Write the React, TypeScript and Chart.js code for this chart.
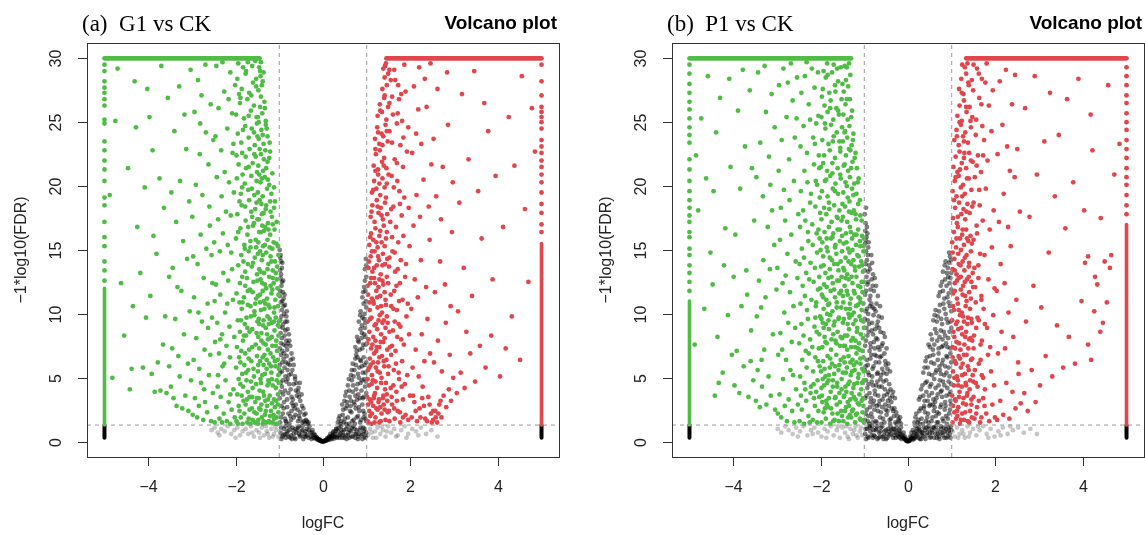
import React, { useEffect, useRef } from "react";
import { Chart, registerables } from "chart.js";

Chart.register(...registerables);

// ---------- shared axis settings ----------
const xTicks = [-4, -2, 0, 2, 4];
const yTicks = [0, 5, 10, 15, 20, 25, 30];
const fcCut = [-1, 1];
const fdrCut = 1.3;
const xRange = [-5.4, 5.4];
const yRange = [-1.2, 31.2];
const xTitle = "logFC";
const yTitle = "\u22121*log10(FDR)";
const mainTitle = "Volcano plot";

// ---------- panel (a) G1 vs CK : flat x,y pairs ----------
const aLabel = "(a)  G1 vs CK";
const aDown = [
  -4.82,5.0, -4.70,29.2, -4.62,12.4, -4.88,19.3, -4.55,8.3, -4.75,25.1,
  -4.42,4.1, -4.38,5.7, -4.31,28.2, -4.25,16.8, -4.46,21.4, -4.12,5.8, -4.05,9.7, -4.18,13.2, -4.28,24.6, -4.08,19.9, -4.35,10.6, -4.02,27.6,
  -3.92,5.3, -3.85,3.9, -3.78,6.2, -3.72,4.0, -3.66,7.6, -3.58,3.8, -3.52,5.9, -3.95,11.4, -3.81,14.7, -3.64,18.3, -3.90,22.8, -3.55,26.9, -3.70,29.4, -3.61,9.8, -3.88,16.1, -3.74,20.6, -3.52,12.9, -3.97,25.4,
  -3.48,4.3, -3.42,3.4, -3.35,2.8, -3.28,5.1, -3.22,2.6, -3.15,3.6, -3.08,2.4, -3.02,4.8, -3.45,7.3, -3.38,9.6, -3.31,6.7, -3.24,11.8, -3.18,8.4, -3.11,14.3, -3.05,10.2, -3.44,13.6, -3.36,17.2, -3.27,20.4, -3.20,15.7, -3.13,22.9, -3.06,18.8, -3.40,24.3, -3.29,27.8, -3.17,25.6, -3.03,29.1, -3.33,12.1, -3.09,6.1, -3.47,19.5,
  -2.98,2.1, -2.93,3.4, -2.88,1.9, -2.84,2.8, -2.79,4.6, -2.74,1.7, -2.70,3.1, -2.65,2.3, -2.61,5.2, -2.56,1.6, -2.52,3.8, -2.96,6.4, -2.90,8.1, -2.83,5.7, -2.77,9.4, -2.71,7.2, -2.64,10.8, -2.58,6.8, -2.53,12.4, -2.95,11.3, -2.87,13.9, -2.80,16.2, -2.73,12.8, -2.67,15.1, -2.60,18.4, -2.55,14.6, -2.99,17.6, -2.91,20.1, -2.82,22.5, -2.76,19.3, -2.68,24.2, -2.62,21.7, -2.57,26.4, -2.94,25.8, -2.86,28.3, -2.78,27.1, -2.69,29.5, -2.51,23.6, -2.63,8.9, -2.85,10.1, -2.72,4.1, -2.59,16.9, -2.97,14.5, -2.54,9.7, -2.81,24.9,
  -2.48,1.5, -2.44,2.7, -2.41,4.3, -2.37,1.8, -2.34,3.5, -2.30,5.9, -2.27,2.2, -2.23,4.8, -2.20,1.6, -2.16,3.1, -2.13,6.6, -2.09,2.5, -2.05,4.1, -2.02,1.9,
  -2.47,7.8, -2.42,9.3, -2.38,6.9, -2.35,11.5, -2.31,8.4, -2.28,13.2, -2.24,10.1, -2.21,7.5, -2.17,12.6, -2.14,9.0, -2.10,14.8, -2.06,11.1, -2.03,8.2,
  -2.49,15.6, -2.45,12.3, -2.40,17.4, -2.36,14.9, -2.32,19.2, -2.29,16.3, -2.25,21.1, -2.22,18.0, -2.18,15.4, -2.15,20.3, -2.11,17.7, -2.07,22.6, -2.04,19.5,
  -2.46,23.9, -2.43,20.7, -2.39,26.1, -2.33,22.8, -2.26,27.4, -2.19,24.5, -2.12,28.9, -2.08,25.7, -2.01,27.9, -2.44,29.4, -2.30,29.7, -2.16,26.8, -2.05,23.3,
  -2.40,5.2, -2.26,6.1, -2.12,3.7, -2.35,8.0, -2.19,10.8, -2.08,13.5, -2.48,11.0,
  -1.98,1.6, -1.91,2.4, -1.84,1.4, -1.77,2.9, -1.70,1.8, -1.63,2.6, -1.56,1.5, -1.52,2.2, -1.88,1.9, -1.66,1.4,
  -1.96,3.7, -1.89,4.5, -1.82,3.2, -1.75,4.8, -1.68,3.5, -1.61,4.2, -1.55,3.1, -1.93,4.9, -1.72,3.9,
  -1.99,5.8, -1.92,6.6, -1.85,5.3, -1.78,6.9, -1.71,5.6, -1.64,6.3, -1.58,5.1, -1.51,6.7, -1.80,6.0,
  -1.97,7.4, -1.90,8.6, -1.83,7.9, -1.76,8.3, -1.69,7.2, -1.62,8.8, -1.54,7.6, -1.87,7.1, -1.73,8.9,
  -1.95,9.5, -1.86,10.4, -1.79,9.2, -1.72,10.7, -1.65,9.8, -1.57,10.2, -1.50,9.4, -1.91,10.9,
  -1.98,11.6, -1.90,12.4, -1.81,11.3, -1.74,12.8, -1.67,11.9, -1.59,12.5, -1.53,11.2, -1.85,12.9,
  -1.94,13.8, -1.87,14.6, -1.78,13.3, -1.70,14.9, -1.63,13.7, -1.56,14.4, -1.51,13.1, -1.82,14.1,
  -1.99,15.9, -1.89,16.7, -1.80,15.4, -1.73,16.2, -1.66,15.7, -1.60,16.9, -1.53,15.2, -1.94,16.4,
  -1.96,17.8, -1.86,18.5, -1.77,17.3, -1.69,18.9, -1.62,17.6, -1.55,18.2, -1.91,18.8, -1.50,17.4,
  -1.97,20.6, -1.88,19.4, -1.79,20.2, -1.71,19.7, -1.64,20.8, -1.57,19.3, -1.52,20.4, -1.84,20.9,
  -1.93,21.7, -1.85,22.6, -1.76,21.4, -1.68,22.9, -1.61,21.8, -1.54,22.3, -1.98,22.4,
  -1.95,24.1, -1.87,23.4, -1.78,24.7, -1.70,23.8, -1.63,24.5, -1.56,23.2, -1.51,24.9,
  -1.99,25.6, -1.90,26.5, -1.81,25.3, -1.73,26.8, -1.65,25.9, -1.58,26.3, -1.52,25.4,
  -1.96,28.4, -1.86,27.6, -1.77,28.8, -1.69,27.3, -1.60,28.1, -1.53,27.8, -1.92,27.2,
  -1.94,29.6, -1.83,29.3, -1.72,29.7, -1.62,29.4, -1.55,29.8,
  -1.48,1.7, -1.43,2.5, -1.38,1.4, -1.33,2.1, -1.28,2.8, -1.24,1.6, -1.19,2.4, -1.15,1.5, -1.10,2.7, -1.06,1.9, -1.02,2.3, -1.41,2.9, -1.30,1.5, -1.13,2.1, -1.04,1.4,
  -1.47,3.4, -1.42,4.6, -1.37,3.9, -1.32,3.2, -1.27,4.4, -1.22,3.6, -1.17,4.9, -1.12,3.3, -1.08,4.2, -1.03,3.7, -1.45,4.0, -1.25,4.8, -1.01,4.6,
  -1.49,5.5, -1.44,6.3, -1.39,5.2, -1.34,6.8, -1.29,5.7, -1.23,6.1, -1.18,5.4, -1.14,6.6, -1.09,5.9, -1.04,6.4, -1.02,5.2, -1.36,6.0, -1.20,6.9,
  -1.46,7.3, -1.41,8.5, -1.36,7.7, -1.31,8.9, -1.26,7.2, -1.21,8.1, -1.16,7.5, -1.11,8.7, -1.07,7.9, -1.02,8.3, -1.48,8.2, -1.28,8.4, -1.05,7.1,
  -1.47,9.6, -1.42,10.3, -1.37,9.1, -1.32,10.8, -1.27,9.8, -1.22,10.5, -1.17,9.3, -1.12,10.1, -1.08,9.7, -1.03,10.6, -1.44,10.9, -1.24,9.2, -1.01,9.4,
  -1.49,11.4, -1.43,12.7, -1.38,11.8, -1.33,12.3, -1.28,11.2, -1.23,12.9, -1.18,11.6, -1.13,12.4, -1.09,11.1, -1.04,12.0, -1.35,11.0, -1.15,12.8,
  -1.46,13.5, -1.40,14.2, -1.35,13.2, -1.30,14.8, -1.25,13.9, -1.20,14.5, -1.15,13.4, -1.10,14.1, -1.05,13.7, -1.02,14.6, -1.44,14.9,
  -1.48,15.6, -1.42,16.4, -1.37,15.3, -1.32,16.8, -1.27,15.8, -1.21,16.2, -1.16,15.1, -1.11,16.6, -1.07,15.5, -1.39,16.9,
  -1.47,17.4, -1.41,18.6, -1.36,17.9, -1.31,18.2, -1.26,17.1, -1.21,18.8, -1.17,17.6, -1.12,18.3, -1.45,18.9,
  -1.49,19.5, -1.43,20.3, -1.38,19.2, -1.33,20.7, -1.28,19.8, -1.23,20.1, -1.18,19.4, -1.46,20.9,
  -1.48,21.6, -1.42,22.5, -1.37,21.2, -1.32,22.8, -1.27,21.9, -1.23,22.2,
  -1.47,23.7, -1.41,24.4, -1.36,23.3, -1.31,24.8, -1.27,23.9,
  -1.49,25.4, -1.44,26.2, -1.39,25.7, -1.34,26.6, -1.31,25.1,
  -1.48,27.5, -1.43,28.6, -1.40,27.9, -1.46,29.3, -1.42,29.7, -1.38,28.2,
];
const aDownDense = [
  -1.03,2.9, -1.07,3.2, -1.12,1.8, -1.17,3.0, -1.21,2.0, -1.26,3.3, -1.31,2.4, -1.35,3.6, -1.40,1.9, -1.46,2.6, -1.51,3.4, -1.57,2.3, -1.62,3.5, -1.68,2.5, -1.74,3.3, -1.80,2.2, -1.86,3.6, -1.93,2.8,
  -1.01,5.7, -1.06,4.8, -1.10,6.3, -1.15,4.4, -1.19,5.9, -1.24,4.6, -1.29,6.4, -1.33,5.3, -1.38,6.6, -1.43,4.9, -1.48,6.0, -1.53,4.5, -1.59,5.7, -1.65,4.7, -1.70,6.5, -1.76,5.4, -1.83,4.3, -1.89,6.2,
  -1.03,9.1, -1.08,7.5, -1.12,9.4, -1.17,8.2, -1.22,9.6, -1.26,8.0, -1.31,7.6, -1.36,9.5, -1.41,7.9, -1.46,9.2, -1.52,8.5, -1.57,9.9, -1.62,7.4, -1.68,8.6, -1.75,9.7, -1.81,8.3, -1.88,9.5,
  -1.02,11.5, -1.06,12.7, -1.11,10.5, -1.16,11.9, -1.20,12.2, -1.25,10.7, -1.30,12.0, -1.34,10.4, -1.39,12.4, -1.44,11.5, -1.50,12.6, -1.55,10.8, -1.61,11.7, -1.66,10.6, -1.72,11.8, -1.78,12.2, -1.84,10.9,
  -1.03,15.3, -1.08,13.2, -1.13,15.6, -1.18,14.1, -1.22,15.2, -1.27,13.5, -1.33,15.4, -1.38,14.6, -1.43,13.3, -1.49,14.7, -1.54,15.8, -1.60,14.0, -1.66,15.2, -1.72,13.9, -1.79,15.1,
  -1.06,17.2, -1.10,18.8, -1.15,17.0, -1.20,18.0, -1.25,16.6, -1.30,18.5, -1.35,16.5, -1.40,17.8, -1.46,16.4, -1.52,18.7, -1.58,17.1, -1.64,18.0, -1.71,16.8, -1.78,18.4,
  -1.12,19.9, -1.16,21.0, -1.21,22.7, -1.26,20.5, -1.30,21.4, -1.35,22.1, -1.40,20.6, -1.45,22.9, -1.51,21.1, -1.57,22.5, -1.63,19.8, -1.70,21.5, -1.77,22.3, -1.85,19.9,
  -1.22,23.4, -1.29,24.5, -1.33,26.1, -1.38,24.0, -1.42,27.0, -1.47,25.0, -1.53,28.4, -1.58,24.2, -1.64,27.1, -1.70,25.5, -1.76,29.0, -1.83,24.4, -1.89,26.9, -1.44,29.0, -1.36,28.9, -1.50,23.9,
  -1.08,1.4, -1.22,1.5, -1.36,1.6, -1.49,1.4, -1.61,1.7, -1.73,1.5, -1.95,1.4, -2.12,1.4, -2.31,1.5,
];
const aDownCap = [-5, 30, -1.45, 30];
const aDownEdge = [-5, 1.3, -5, 12.0];
const aDownEdgeDots = [
  -5,12.6, -5,13.4, -5,14.1, -5,15.3, -5,16.0, -5,17.2, -5,18.5, -5,19.1, -5,20.4, -5,21.3, -5,22.0,
  -5,22.8, -5,23.5, -5,24.9, -5,25.2, -5,26.3, -5,26.8, -5,27.3, -5,27.7, -5,28.2, -5,29.0, -5,29.5,
];
const aUp = [
  1.02,1.6, 1.06,2.4, 1.11,1.4, 1.15,2.8, 1.20,1.9, 1.25,2.5, 1.29,1.5, 1.34,2.2, 1.39,2.9, 1.43,1.7, 1.48,2.3, 1.08,2.0, 1.31,2.7,
  1.01,3.5, 1.05,4.4, 1.10,3.1, 1.14,4.8, 1.19,3.8, 1.24,4.2, 1.28,3.3, 1.33,4.6, 1.38,3.6, 1.42,4.1, 1.47,3.2, 1.16,3.4,
  1.03,5.6, 1.07,6.5, 1.12,5.2, 1.17,6.9, 1.21,5.8, 1.26,6.2, 1.30,5.4, 1.35,6.7, 1.40,5.9, 1.45,6.4, 1.49,5.3, 1.09,6.0,
  1.01,7.7, 1.06,8.6, 1.10,7.3, 1.15,8.2, 1.20,7.9, 1.24,8.8, 1.29,7.4, 1.33,8.4, 1.38,7.8, 1.43,8.9, 1.47,7.2, 1.22,7.1,
  1.02,9.4, 1.07,10.3, 1.11,9.7, 1.16,10.8, 1.21,9.2, 1.25,10.5, 1.30,9.9, 1.35,10.1, 1.39,9.5, 1.44,10.7, 1.48,9.3,
  1.03,11.5, 1.08,12.4, 1.12,11.2, 1.17,12.8, 1.22,11.8, 1.27,12.1, 1.31,11.4, 1.36,12.6, 1.41,11.7, 1.46,12.9,
  1.04,13.6, 1.09,14.5, 1.13,13.3, 1.18,14.9, 1.23,13.8, 1.28,14.2, 1.32,13.1, 1.37,14.7, 1.42,13.9, 1.47,14.3,
  1.06,15.4, 1.10,16.3, 1.15,15.8, 1.20,16.7, 1.25,15.2, 1.29,16.1, 1.34,15.6, 1.39,16.9, 1.44,15.9,
  1.09,17.6, 1.13,18.5, 1.18,17.2, 1.23,18.9, 1.27,17.9, 1.32,18.3, 1.37,17.4, 1.42,18.7, 1.47,17.8,
  1.12,19.5, 1.17,20.4, 1.22,19.8, 1.26,20.9, 1.31,19.3, 1.36,20.6, 1.41,19.9, 1.46,20.2,
  1.16,21.6, 1.21,22.5, 1.26,21.3, 1.30,22.8, 1.35,21.9, 1.40,22.2, 1.45,21.4,
  1.19,23.7, 1.24,24.6, 1.29,23.3, 1.34,24.1, 1.38,23.9, 1.43,24.8, 1.48,23.5,
  1.25,25.5, 1.30,26.4, 1.35,25.8, 1.40,26.9, 1.45,25.2, 1.49,26.2,
  1.36,27.6, 1.41,28.5, 1.46,27.9, 1.38,29.2, 1.44,29.6, 1.49,28.8,
  1.52,1.6, 1.58,2.9, 1.64,1.8, 1.71,2.4, 1.77,1.5, 1.83,3.3, 1.89,2.1, 1.95,1.7,
  1.55,4.2, 1.62,5.6, 1.68,3.9, 1.74,4.9, 1.81,6.3, 1.87,4.5, 1.93,5.2, 1.99,3.6,
  1.53,7.4, 1.60,8.7, 1.66,7.1, 1.73,9.2, 1.79,8.0, 1.85,7.6, 1.91,9.8, 1.97,8.4,
  1.56,10.6, 1.63,11.8, 1.69,10.3, 1.76,12.4, 1.82,11.1, 1.88,12.9, 1.94,10.8,
  1.51,13.7, 1.59,14.9, 1.65,13.3, 1.72,15.6, 1.78,14.2, 1.84,16.1, 1.90,13.9, 1.98,15.3,
  1.54,17.2, 1.61,18.4, 1.67,16.8, 1.75,19.6, 1.80,17.7, 1.86,19.1, 1.96,18.3,
  1.57,20.8, 1.64,22.1, 1.70,20.4, 1.77,23.2, 1.83,21.5, 1.92,22.7,
  1.52,24.3, 1.60,25.6, 1.69,24.9, 1.74,26.8, 1.81,25.1, 1.89,27.4, 1.95,24.6,
  1.55,28.3, 1.63,29.1, 1.72,27.9, 1.86,29.5, 1.58,27.0,
  2.03,1.9, 2.09,3.1, 2.15,1.6, 2.21,2.6, 2.28,4.3, 2.34,1.8, 2.41,3.5, 2.47,2.2,
  2.05,5.8, 2.12,7.2, 2.19,5.1, 2.26,8.4, 2.32,6.3, 2.39,9.6, 2.45,6.9,
  2.02,10.4, 2.10,12.7, 2.17,11.3, 2.24,14.2, 2.36,12.1, 2.44,15.8,
  2.07,16.9, 2.14,19.3, 2.22,17.6, 2.30,20.5, 2.42,18.4,
  2.04,22.6, 2.13,24.1, 2.25,23.3, 2.37,26.2, 2.48,21.7,
  2.08,27.8, 2.20,29.3, 2.33,28.4, 2.46,29.6, 2.18,26.0,
  2.52,1.7, 2.57,2.4, 2.61,1.5, 2.66,2.9, 2.71,1.9, 2.76,3.6, 2.82,2.7, 2.88,4.1, 2.93,3.2, 2.98,5.0,
  2.54,6.2, 2.63,7.9, 2.72,5.5, 2.81,9.3, 2.90,6.8,
  2.56,11.7, 2.68,14.1, 2.79,12.3, 2.95,16.4,
  2.59,19.2, 2.74,21.5, 2.86,24.8, 2.97,20.3,
  2.62,27.6, 2.84,28.9, 2.70,17.4, 2.53,23.7, 2.92,10.6,
  3.06,3.8, 3.15,5.4, 3.24,4.2, 3.37,6.9, 3.48,4.7, 3.59,7.5, 3.72,5.8, 3.85,8.3,
  3.09,10.2, 3.22,13.6, 3.41,11.4, 3.63,15.9, 3.88,12.7,
  3.12,18.7, 3.33,22.1, 3.55,19.6, 3.78,24.3,
  3.18,27.2, 3.46,29.0, 3.69,26.5, 3.95,20.8, 3.28,8.6,
  4.05,5.1, 4.18,7.3, 4.32,9.8, 4.51,6.4, 4.70,12.5,
  4.12,16.8, 4.38,21.6, 4.62,18.2, 4.85,22.7,
  4.25,25.4, 4.55,28.6, 4.78,26.1,
];
const aUpDense = [
  1.03,2.9, 1.07,3.3, 1.12,2.2, 1.17,3.6, 1.22,2.6, 1.27,3.1, 1.32,1.6, 1.37,3.4, 1.41,2.5, 1.46,3.7, 1.51,2.4, 1.57,3.5, 1.63,2.6, 1.69,3.2, 1.76,2.3, 1.83,1.9, 1.04,1.5, 1.18,1.5,
  1.02,4.9, 1.06,5.8, 1.11,4.5, 1.15,6.2, 1.20,4.7, 1.25,5.5, 1.29,6.6, 1.34,5.0, 1.39,6.3, 1.44,4.6, 1.50,5.9, 1.56,6.8, 1.61,4.4, 1.67,6.1, 1.73,5.4, 1.80,4.3,
  1.04,8.0, 1.08,9.6, 1.13,7.6, 1.18,9.1, 1.23,7.4, 1.27,9.5, 1.32,7.8, 1.36,9.3, 1.41,8.1, 1.46,9.8, 1.52,8.6, 1.58,7.5, 1.64,9.4, 1.70,8.2, 1.77,9.0,
  1.02,12.2, 1.06,10.9, 1.10,12.8, 1.15,11.0, 1.19,12.4, 1.24,11.3, 1.29,12.7, 1.33,10.6, 1.38,12.3, 1.43,11.1, 1.49,12.4, 1.55,11.5, 1.61,10.4, 1.68,12.2, 1.74,11.0,
  1.05,14.1, 1.08,16.0, 1.12,14.9, 1.17,13.6, 1.22,15.6, 1.26,14.5, 1.31,16.5, 1.36,13.8, 1.41,15.3, 1.46,16.4, 1.52,14.4, 1.58,16.0, 1.64,14.8, 1.71,13.5,
  1.11,18.0, 1.15,19.7, 1.20,21.2, 1.25,18.4, 1.29,20.2, 1.34,17.7, 1.39,21.6, 1.44,19.1, 1.50,20.9, 1.56,18.2, 1.62,19.9, 1.69,21.8, 1.76,18.6,
  1.20,22.9, 1.26,24.2, 1.31,25.9, 1.36,23.2, 1.41,27.1, 1.46,24.3, 1.52,26.5, 1.58,23.4, 1.65,28.3, 1.71,25.7, 1.79,27.2, 1.42,29.4, 1.52,29.1, 1.84,23.8,
  2.23,1.9, 2.31,2.8, 2.38,1.6, 2.44,2.9, 2.52,2.4, 2.58,1.9, 2.64,2.2, 2.69,3.2, 2.27,3.4, 2.49,1.5, 2.12,2.4, 2.06,3.6,
];
const aUpCap = [1.45, 30, 5, 30];
const aUpEdge = [5, 1.3, 5, 15.5];
const aUpEdgeDots = [
  5,16.4, 5,17.0, 5,17.9, 5,18.6, 5,19.5, 5,20.3, 5,20.9, 5,21.5, 5,22.0, 5,22.6,
  5,23.1, 5,23.6, 5,24.5, 5,25.0, 5,25.4, 5,25.8, 5,26.2, 5,27.1, 5,28.2, 5,29.5,
];
const aNs = [
  -2.55,0.9, -2.48,1.1, -2.41,0.7, -2.33,1.0, -2.25,0.8, -2.18,1.2, -2.10,0.6, -2.03,0.9, -1.96,1.1, -1.90,0.5, -1.84,0.8, -1.77,1.0, -1.71,0.6, -1.65,1.2, -1.58,0.4, -1.52,0.9, -1.46,0.7, -1.40,1.1, -1.35,0.5, -1.29,0.8, -1.23,0.3, -1.18,1.0, -1.12,0.6, -1.07,0.9, -1.02,0.4, -2.37,0.5, -2.00,0.3, -1.62,0.7, -1.44,0.3, -1.31,1.2, -1.15,0.4, -1.09,1.2, -1.26,0.6,
  -0.97,0.7, -0.93,0.4, -0.89,1.0, -0.85,0.3, -0.81,0.8, -0.77,1.2, -0.73,0.5, -0.69,0.9, -0.65,0.3, -0.61,0.7, -0.57,1.1, -0.53,0.4, -0.49,0.8, -0.45,0.2, -0.41,0.6, -0.37,1.0, -0.33,0.3, -0.29,0.7, -0.26,0.2, -0.23,0.5, -0.19,0.3, -0.16,0.2, -0.12,0.15, -0.08,0.1, -0.04,0.05, 0.00,0.04, 0.04,0.06, 0.08,0.1, 0.12,0.2, 0.15,0.15, 0.19,0.35, 0.22,0.5, 0.26,0.25, 0.29,0.8, 0.33,0.4, 0.36,1.1, 0.40,0.6, 0.44,0.3, 0.48,0.9, 0.52,0.5, 0.56,1.2, 0.60,0.3, 0.64,0.8, 0.68,0.4, 0.72,1.0, 0.76,0.6, 0.80,0.2, 0.84,0.9, 0.88,0.5, 0.92,1.1, 0.96,0.3, 0.99,0.7,
  -0.95,0.2, -0.87,0.6, -0.79,0.4, -0.71,0.2, -0.63,1.0, -0.55,0.6, -0.47,1.2, -0.39,0.4, -0.31,1.2, -0.24,0.9, -0.20,0.6, -0.14,0.3, -0.10,0.2, -0.06,0.08, -0.02,0.02, 0.02,0.03, 0.06,0.12, 0.10,0.3, 0.14,0.4, 0.17,0.6, 0.21,0.2, 0.24,0.8, 0.28,0.4, 0.31,1.0, 0.38,0.3, 0.42,0.9, 0.46,0.5, 0.54,0.2, 0.58,0.7, 0.66,1.1, 0.74,0.3, 0.82,0.6, 0.90,0.2, 0.94,0.8,
  1.03,0.5, 1.08,1.0, 1.14,0.3, 1.19,0.8, 1.25,1.1, 1.31,0.6, 1.37,0.9, 1.43,0.4, 1.49,1.2, 1.56,0.7, 1.63,1.0, 1.71,0.5, 1.79,0.9, 1.87,1.2, 1.95,0.6, 2.04,1.0, 2.13,0.8, 2.24,1.1, 2.36,0.6, 2.48,0.9, 2.62,0.4, 1.11,0.7, 1.22,0.3, 1.34,1.2, 1.46,0.8, 1.67,0.4, 1.91,0.3, 2.18,0.5,
  -0.98,1.5, -0.92,2.2, -0.87,1.8, -0.82,2.7, -0.77,1.4, -0.72,2.4, -0.67,1.9, -0.62,2.9, -0.57,1.6, -0.52,2.3, -0.47,1.5, -0.43,2.1, -0.39,1.7, -0.35,1.4, -0.95,2.8, -0.85,1.6, -0.75,2.0, -0.65,2.6, -0.55,2.0, -0.45,2.6, -0.41,1.4, -0.33,1.5,
  -0.99,3.4, -0.94,4.3, -0.89,3.1, -0.84,4.7, -0.79,3.8, -0.74,4.1, -0.69,3.3, -0.64,4.9, -0.60,3.6, -0.56,4.2, -0.52,3.2, -0.49,3.7, -0.91,3.7, -0.81,4.9, -0.71,3.0, -0.62,4.0, -0.55,3.5, -0.97,4.6,
  -0.98,5.4, -0.93,6.2, -0.88,5.8, -0.83,6.7, -0.78,5.2, -0.74,6.4, -0.70,5.6, -0.67,6.0, -0.64,5.1, -0.96,6.8, -0.86,5.1, -0.80,6.1, -0.72,6.9, -0.90,6.5,
  -0.99,7.3, -0.94,8.1, -0.90,7.6, -0.86,8.7, -0.82,7.2, -0.78,8.4, -0.75,7.5, -0.92,8.9, -0.84,7.9, -0.97,8.5, -0.80,7.7,
  -0.98,9.5, -0.94,10.3, -0.91,9.2, -0.87,10.7, -0.84,9.8, -0.96,10.9, -0.89,10.0, -0.82,9.4,
  -0.99,11.4, -0.95,12.2, -0.92,11.7, -0.97,12.8, -0.90,11.2, -0.94,12.5, -0.88,11.5,
  -0.98,13.4, -0.96,14.1, -0.99,15.0, -0.94,13.6, -0.97,14.6,
  0.34,1.5, 0.38,2.0, 0.42,1.6, 0.46,2.5, 0.50,1.8, 0.55,2.8, 0.60,1.4, 0.65,2.3, 0.70,1.7, 0.75,2.6, 0.80,2.0, 0.85,1.5, 0.90,2.9, 0.95,2.2, 0.99,1.6, 0.44,2.9, 0.53,1.4, 0.63,2.8, 0.73,1.4, 0.83,2.4, 0.93,1.9,
  0.49,3.2, 0.53,3.9, 0.57,4.4, 0.61,3.5, 0.66,4.8, 0.71,3.1, 0.76,4.1, 0.81,3.7, 0.86,4.6, 0.91,3.4, 0.96,4.3, 0.99,3.8, 0.59,4.9, 0.68,3.9, 0.78,3.3, 0.88,4.0, 0.94,4.9,
  0.64,5.2, 0.68,6.1, 0.72,5.6, 0.76,6.8, 0.80,5.3, 0.85,6.4, 0.89,5.9, 0.93,6.6, 0.97,5.4, 0.99,6.2, 0.74,6.5, 0.83,5.8,
  0.74,7.4, 0.78,8.2, 0.82,7.8, 0.86,8.8, 0.90,7.3, 0.94,8.4, 0.98,7.6, 0.88,8.1, 0.96,8.9,
  0.82,9.4, 0.86,10.2, 0.90,9.7, 0.93,10.8, 0.97,9.3, 0.99,10.5, 0.95,10.0,
  0.90,11.3, 0.94,12.1, 0.97,11.8, 0.99,12.9, 0.96,13.5, 0.98,14.3,
];
const aNsDense = [
  -0.96,1.1, -0.91,0.5, -0.86,1.2, -0.83,0.6, -0.78,0.9, -0.75,0.3, -0.70,1.1, -0.67,0.6, -0.63,0.2, -0.59,0.9, -0.55,1.2, -0.51,0.5, -0.47,0.9, -0.43,0.4, -0.40,0.8, -0.36,0.5, -0.32,0.9, -0.28,0.4, -0.25,0.7, -0.22,0.3, -0.18,0.5, -0.15,0.35, -0.13,0.25, -0.11,0.2, -0.09,0.12, -0.07,0.15, -0.05,0.07, -0.03,0.04, -0.01,0.03, 0.01,0.02, 0.03,0.05, 0.05,0.08, 0.07,0.1, 0.09,0.18, 0.11,0.15, 0.13,0.3, 0.16,0.4, 0.18,0.25, 0.20,0.45, 0.23,0.7, 0.25,0.4, 0.27,0.6, 0.30,1.0, 0.32,0.3, 0.35,0.8, 0.37,0.5, 0.41,1.2, 0.45,0.7, 0.49,0.3, 0.53,1.0, 0.57,0.5, 0.61,0.9, 0.65,0.4, 0.69,1.2, 0.73,0.6, 0.77,0.9, 0.81,0.4, 0.86,1.1, 0.91,0.6, 0.95,1.0, 0.98,0.4,
  -0.96,1.9, -0.90,2.6, -0.84,1.5, -0.79,2.2, -0.73,1.7, -0.68,2.8, -0.63,2.1, -0.58,2.5, -0.53,1.8, -0.48,2.8, -0.44,1.6, -0.40,2.2, -0.37,1.6, -0.97,3.9, -0.92,4.8, -0.87,4.0, -0.82,3.3, -0.77,4.5, -0.72,3.5, -0.67,4.5, -0.61,4.6, -0.57,3.9, -0.53,4.6, -0.99,6.0, -0.94,5.5, -0.89,6.9, -0.85,6.2, -0.81,5.6, -0.76,6.0, -0.73,5.3, -0.69,6.5, -0.96,7.7, -0.93,7.1, -0.88,8.3, -0.85,7.5, -0.81,8.8, -0.77,7.9, -0.99,9.0, -0.95,9.8, -0.90,10.6, -0.86,9.4, -0.83,10.2, -0.98,11.8, -0.93,11.0, -0.91,12.6, -0.96,13.1, -0.93,14.0, -0.98,14.4,
  0.36,1.8, 0.40,1.4, 0.45,2.1, 0.48,1.5, 0.52,2.6, 0.57,1.9, 0.62,2.4, 0.67,1.6, 0.72,2.9, 0.77,1.9, 0.82,2.7, 0.87,1.7, 0.92,2.4, 0.97,1.8, 0.51,3.6, 0.55,3.1, 0.60,4.0, 0.64,3.2, 0.69,4.4, 0.74,3.6, 0.79,4.5, 0.84,3.4, 0.89,4.8, 0.93,3.5, 0.98,4.7, 0.66,5.6, 0.70,5.1, 0.75,6.0, 0.79,6.6, 0.82,5.0, 0.87,6.3, 0.91,5.4, 0.95,6.0, 0.77,7.1, 0.80,7.9, 0.84,7.2, 0.89,8.5, 0.92,7.6, 0.97,8.2, 0.85,9.9, 0.89,9.1, 0.94,9.6, 0.98,11.0, 0.92,11.7, 0.96,12.6, 0.99,13.8,
];
const aNsEdgeLeft = [-5, 0.3, -5, 1.3];
const aNsEdgeRight = [5, 0.3, 5, 1.3];

// ---------- panel (b) P1 vs CK : flat x,y pairs ----------
const bLabel = "(b)  P1 vs CK";
const bDown = [
  -4.88,7.6, -4.80,18.1, -4.73,25.3, -4.66,10.4, -4.58,28.6, -4.52,14.8, -4.85,22.4, -4.62,20.6,
  -4.47,12.3, -4.42,3.6, -4.36,8.2, -4.30,26.9, -4.24,5.4, -4.18,16.7, -4.12,9.9, -4.06,21.5, -4.45,19.6, -4.33,4.6, -4.21,13.8, -4.09,28.4, -4.39,24.2, -4.03,6.8,
  -3.97,4.4, -3.92,7.1, -3.86,3.8, -3.81,10.6, -3.76,5.9, -3.70,13.4, -3.65,3.5, -3.59,8.7, -3.54,4.8, -3.95,16.2, -3.84,19.8, -3.73,23.1, -3.62,27.5, -3.52,17.3, -3.89,25.9, -3.78,29.1, -3.68,11.5, -3.57,21.4, -3.99,12.9, -3.60,6.3,
  -3.48,3.2, -3.44,5.6, -3.39,2.7, -3.34,4.3, -3.29,7.2, -3.24,2.9, -3.19,5.1, -3.14,3.6, -3.09,8.4, -3.04,2.5,
  -3.46,9.8, -3.41,12.6, -3.36,10.5, -3.31,14.2, -3.26,11.3, -3.21,16.8, -3.16,13.5, -3.11,18.1, -3.06,15.4,
  -3.47,20.7, -3.38,23.4, -3.32,19.2, -3.25,25.8, -3.18,22.3, -3.12,27.2, -3.05,24.6, -3.43,28.9, -3.28,29.4, -3.15,20.1, -3.01,11.9, -3.35,6.4,
  -2.98,2.2, -2.94,3.7, -2.90,1.9, -2.86,4.9, -2.82,2.8, -2.77,1.6, -2.73,3.3, -2.69,5.6, -2.65,2.4, -2.60,1.5, -2.56,4.1, -2.52,2.9,
  -2.97,6.8, -2.92,8.5, -2.88,7.2, -2.83,10.1, -2.79,6.4, -2.74,9.3, -2.70,11.7, -2.66,7.8, -2.62,10.6, -2.58,8.9, -2.53,12.8,
  -2.99,13.6, -2.93,15.8, -2.87,12.4, -2.81,17.3, -2.76,14.7, -2.71,18.9, -2.67,16.2, -2.61,20.4, -2.57,14.1, -2.51,17.8,
  -2.96,21.2, -2.89,23.6, -2.84,19.7, -2.78,25.4, -2.72,22.1, -2.64,26.7, -2.59,23.8, -2.54,28.5,
  -2.95,27.9, -2.85,29.2, -2.75,28.1, -2.68,29.6, -2.55,25.3, -2.91,18.3, -2.63,5.2, -2.80,13.0,
  -2.48,1.6, -2.43,2.5, -2.38,1.4, -2.33,3.2, -2.28,2.0, -2.23,3.8, -2.18,1.7, -2.13,2.8, -2.08,1.5, -2.03,3.5, -2.45,3.6, -2.25,1.5, -2.10,3.9,
  -2.47,5.1, -2.42,6.4, -2.37,4.6, -2.32,5.8, -2.27,6.9, -2.22,4.3, -2.17,5.5, -2.12,6.6, -2.07,4.8, -2.02,5.9, -2.35,4.1,
  -2.49,7.7, -2.44,9.2, -2.39,8.3, -2.34,7.1, -2.29,9.6, -2.24,8.0, -2.19,7.4, -2.14,9.0, -2.09,8.6, -2.04,7.3, -2.01,9.8,
  -2.46,10.8, -2.41,12.2, -2.36,11.4, -2.31,10.3, -2.26,12.7, -2.21,11.1, -2.16,12.5, -2.11,10.6, -2.06,11.9, -2.03,12.9,
  -2.48,13.9, -2.43,15.1, -2.38,14.4, -2.33,13.2, -2.28,15.7, -2.23,14.0, -2.18,15.4, -2.13,13.6, -2.08,14.8, -2.02,15.9,
  -2.47,16.8, -2.40,18.1, -2.35,17.3, -2.29,16.4, -2.24,18.7, -2.19,17.0, -2.12,18.4, -2.05,16.6, -2.01,17.9,
  -2.45,19.6, -2.37,21.2, -2.30,20.3, -2.22,19.4, -2.15,21.7, -2.08,20.1, -2.03,21.4,
  -2.46,23.1, -2.39,24.7, -2.31,22.6, -2.24,25.2, -2.17,23.8, -2.10,24.9, -2.04,22.4,
  -2.44,27.3, -2.36,28.6, -2.27,26.4, -2.20,29.2, -2.14,27.7, -2.06,28.9, -2.32,29.7,
  -1.98,1.5, -1.93,2.3, -1.88,1.8, -1.83,2.7, -1.78,1.4, -1.73,2.2, -1.68,1.7, -1.63,2.9, -1.58,1.6, -1.53,2.4, -1.86,2.9,
  -1.97,3.6, -1.92,4.4, -1.87,3.2, -1.82,4.8, -1.77,3.9, -1.72,4.3, -1.67,3.4, -1.62,4.6, -1.57,3.8, -1.52,4.1, -1.95,4.9,
  -1.99,5.5, -1.94,6.3, -1.89,5.1, -1.84,6.7, -1.79,5.8, -1.74,6.1, -1.69,5.3, -1.64,6.8, -1.59,5.6, -1.54,6.4, -1.81,5.2,
  -1.96,7.4, -1.91,8.2, -1.86,7.7, -1.81,8.8, -1.76,7.2, -1.71,8.4, -1.66,7.9, -1.61,8.6, -1.56,7.5, -1.51,8.1, -1.93,8.9,
  -1.98,9.6, -1.93,10.4, -1.88,9.2, -1.83,10.7, -1.78,9.9, -1.73,10.2, -1.68,9.4, -1.63,10.9, -1.58,9.7, -1.53,10.5, -1.85,10.0,
  -1.97,11.5, -1.92,12.3, -1.87,11.1, -1.82,12.8, -1.77,11.8, -1.72,12.4, -1.67,11.3, -1.62,12.6, -1.57,11.6, -1.52,12.9,
  -1.99,13.7, -1.94,14.5, -1.89,13.2, -1.84,14.9, -1.79,13.5, -1.74,14.2, -1.69,13.9, -1.64,14.7, -1.59,13.4, -1.54,14.1,
  -1.96,15.6, -1.91,16.4, -1.86,15.2, -1.81,16.8, -1.76,15.9, -1.71,16.3, -1.66,15.4, -1.61,16.6, -1.56,15.7, -1.51,16.1,
  -1.98,17.4, -1.92,18.3, -1.87,17.8, -1.81,18.7, -1.75,17.2, -1.69,18.5, -1.63,17.6, -1.57,18.1, -1.52,17.3,
  -1.97,19.6, -1.90,20.4, -1.84,19.2, -1.78,20.8, -1.72,19.8, -1.66,20.2, -1.60,19.4, -1.54,20.6,
  -1.99,21.5, -1.92,22.4, -1.85,21.2, -1.79,22.8, -1.73,21.8, -1.67,22.2, -1.61,21.4, -1.55,22.7,
  -1.96,23.6, -1.89,24.5, -1.82,23.3, -1.76,24.8, -1.70,23.9, -1.63,24.2, -1.57,23.5, -1.51,24.6,
  -1.98,25.4, -1.91,26.3, -1.84,25.8, -1.77,26.7, -1.71,25.2, -1.64,26.1, -1.58,25.6, -1.52,26.8,
  -1.95,27.6, -1.88,28.5, -1.80,27.3, -1.74,28.9, -1.67,27.9, -1.60,28.2, -1.54,29.3, -1.85,29.6, -1.70,29.5,
  -1.48,1.6, -1.44,2.4, -1.39,1.4, -1.35,2.8, -1.30,1.9, -1.26,2.5, -1.21,1.5, -1.17,2.2, -1.12,2.9, -1.08,1.7, -1.04,2.3, -1.01,1.5, -1.33,2.1,
  -1.47,3.5, -1.43,4.3, -1.38,3.1, -1.34,4.7, -1.29,3.8, -1.25,4.2, -1.20,3.3, -1.16,4.6, -1.11,3.7, -1.07,4.1, -1.03,3.4, -1.01,4.8, -1.41,3.9,
  -1.49,5.4, -1.45,6.2, -1.40,5.8, -1.36,6.7, -1.31,5.2, -1.27,6.4, -1.22,5.6, -1.18,6.9, -1.13,5.3, -1.09,6.1, -1.05,5.7, -1.02,6.6, -1.24,6.0,
  -1.48,7.5, -1.44,8.3, -1.39,7.2, -1.35,8.8, -1.30,7.9, -1.26,8.1, -1.21,7.4, -1.17,8.6, -1.12,7.7, -1.08,8.4, -1.04,7.1, -1.01,8.9, -1.15,7.3,
  -1.47,9.6, -1.42,10.4, -1.38,9.2, -1.33,10.8, -1.29,9.9, -1.24,10.1, -1.20,9.5, -1.15,10.7, -1.11,9.8, -1.06,10.3, -1.02,9.4, -1.36,10.0, -1.09,10.9,
  -1.49,11.4, -1.45,12.2, -1.40,11.8, -1.36,12.7, -1.31,11.2, -1.27,12.4, -1.22,11.6, -1.18,12.9, -1.13,11.3, -1.09,12.1, -1.04,11.7, -1.01,12.5,
  -1.48,13.6, -1.43,14.4, -1.39,13.1, -1.34,14.8, -1.30,13.9, -1.25,14.2, -1.21,13.4, -1.16,14.6, -1.12,13.7, -1.07,14.1, -1.03,13.3, -1.02,14.9,
  -1.47,15.5, -1.42,16.3, -1.37,15.1, -1.33,16.8, -1.28,15.9, -1.23,16.2, -1.19,15.4, -1.14,16.6, -1.10,15.7, -1.05,16.1, -1.02,15.3,
  -1.49,17.6, -1.44,18.4, -1.39,17.2, -1.34,18.8, -1.29,17.9, -1.24,18.1, -1.19,17.4, -1.14,18.6, -1.09,17.7,
  -1.48,19.5, -1.43,20.3, -1.38,19.1, -1.33,20.7, -1.28,19.8, -1.23,20.2, -1.18,19.4, -1.13,20.6,
  -1.47,21.6, -1.42,22.4, -1.37,21.2, -1.32,22.8, -1.27,21.9, -1.22,22.2, -1.17,21.4,
  -1.49,23.5, -1.44,24.3, -1.39,23.8, -1.34,24.7, -1.29,23.2, -1.25,24.1,
  -1.48,25.6, -1.43,26.4, -1.38,25.2, -1.33,26.8, -1.28,25.9,
  -1.47,27.4, -1.42,28.3, -1.37,27.8, -1.32,28.7, -1.45,29.4, -1.35,29.6,
];
const bDownDense = [
  -1.02,2.8, -1.06,3.2, -1.10,1.8, -1.15,3.0, -1.19,2.1, -1.24,3.5, -1.28,2.4, -1.32,3.3, -1.37,1.9, -1.42,2.7, -1.46,3.6, -1.51,2.0, -1.56,3.1, -1.61,2.2, -1.66,3.5, -1.71,1.6, -1.76,2.6, -1.81,3.4, -1.90,2.6, -1.96,3.1, -2.05,2.4, -2.15,3.4,
  -1.01,5.5, -1.05,4.6, -1.09,6.5, -1.14,5.0, -1.18,6.2, -1.23,4.5, -1.28,5.5, -1.32,6.2, -1.37,4.5, -1.42,5.4, -1.47,6.6, -1.52,4.9, -1.57,6.0, -1.62,4.3, -1.67,5.9, -1.72,4.8, -1.78,6.5, -1.85,4.6, -1.91,5.7, -1.98,4.2, -2.06,6.3, -2.16,4.5,
  -1.03,8.1, -1.07,9.5, -1.11,7.2, -1.16,8.9, -1.20,7.9, -1.25,9.2, -1.30,7.4, -1.34,9.7, -1.39,8.3, -1.44,7.5, -1.49,9.3, -1.54,8.2, -1.59,9.6, -1.64,7.7, -1.70,9.1, -1.75,8.0, -1.82,9.5, -1.89,7.8, -1.95,9.3, -2.03,8.4, -2.12,9.7,
  -1.02,10.8, -1.06,12.5, -1.10,11.2, -1.14,12.2, -1.19,10.6, -1.24,11.8, -1.29,12.9, -1.33,10.4, -1.38,11.5, -1.43,12.8, -1.48,10.9, -1.53,11.8, -1.58,12.6, -1.63,10.5, -1.69,11.9, -1.75,12.9, -1.80,10.8, -1.86,12.1, -1.94,11.3, -2.01,12.0, -2.10,10.9,
  -1.01,15.9, -1.05,13.8, -1.09,15.3, -1.13,14.5, -1.18,16.2, -1.22,13.7, -1.27,15.0, -1.31,16.4, -1.36,14.1, -1.41,15.6, -1.46,13.4, -1.51,14.9, -1.56,16.6, -1.61,13.9, -1.67,15.2, -1.73,16.0, -1.79,14.4, -1.86,15.9, -1.93,13.8, -2.00,15.0, -2.09,16.3,
  -1.06,17.3, -1.10,18.9, -1.15,20.3, -1.20,17.8, -1.25,19.3, -1.30,21.4, -1.35,18.0, -1.40,20.0, -1.45,21.7, -1.50,18.6, -1.55,20.9, -1.61,17.5, -1.67,19.6, -1.73,21.0, -1.80,18.2, -1.87,20.5, -1.94,21.8, -2.02,19.1, -2.11,20.4,
  -1.20,22.6, -1.26,23.6, -1.30,25.4, -1.35,22.9, -1.40,26.8, -1.45,24.2, -1.50,28.0, -1.55,23.0, -1.60,25.9, -1.66,27.4, -1.72,23.5, -1.78,26.1, -1.84,28.7, -1.90,24.9, -1.97,27.0, -2.05,25.5, -2.13,23.3, -1.40,29.3, -1.62,29.2, -1.93,29.0,
];
const bDownCap = [-5, 30, -1.3, 30];
const bDownEdge = [-5, 1.3, -5, 11.0];
const bDownEdgeDots = [
  -5,11.8, -5,12.5, -5,13.2, -5,13.8, -5,14.6, -5,15.1, -5,16.0, -5,16.4, -5,17.2, -5,17.7, -5,18.3, -5,18.9, -5,19.6,
  -5,20.4, -5,21.3, -5,22.1, -5,23.4, -5,24.0, -5,24.6, -5,25.3, -5,26.0, -5,26.6, -5,27.3, -5,28.0, -5,28.8, -5,29.5,
];
const bUp = [
  1.02,1.5, 1.06,2.3, 1.10,1.8, 1.15,2.7, 1.19,1.4, 1.24,2.2, 1.28,1.7, 1.33,2.9, 1.37,1.6, 1.42,2.4, 1.46,1.9, 1.13,2.0,
  1.01,3.6, 1.05,4.4, 1.09,3.2, 1.14,4.8, 1.18,3.9, 1.23,4.3, 1.27,3.4, 1.32,4.6, 1.36,3.8, 1.41,4.1, 1.45,3.3, 1.49,4.7,
  1.03,5.5, 1.07,6.3, 1.12,5.1, 1.16,6.7, 1.21,5.8, 1.25,6.1, 1.30,5.3, 1.34,6.8, 1.39,5.6, 1.44,6.4, 1.48,5.2,
  1.02,7.4, 1.06,8.2, 1.11,7.8, 1.15,8.8, 1.20,7.2, 1.24,8.4, 1.29,7.6, 1.33,8.6, 1.38,7.3, 1.43,8.1, 1.47,7.9,
  1.01,9.5, 1.05,10.3, 1.10,9.2, 1.14,10.8, 1.19,9.9, 1.23,10.1, 1.28,9.4, 1.32,10.6, 1.37,9.7, 1.42,10.4, 1.46,9.3,
  1.03,11.6, 1.07,12.4, 1.12,11.2, 1.16,12.8, 1.21,11.9, 1.26,12.2, 1.31,11.4, 1.35,12.7, 1.40,11.7, 1.45,12.5,
  1.02,13.5, 1.06,14.3, 1.11,13.1, 1.15,14.7, 1.20,13.8, 1.25,14.1, 1.29,13.4, 1.34,14.6, 1.39,13.7, 1.44,14.9, 1.48,13.2,
  1.01,15.6, 1.05,16.4, 1.10,15.2, 1.14,16.8, 1.19,15.9, 1.24,16.2, 1.28,15.4, 1.33,16.6, 1.38,15.7, 1.43,16.1,
  1.03,17.5, 1.08,18.3, 1.12,17.1, 1.17,18.7, 1.22,17.8, 1.27,18.2, 1.31,17.4, 1.36,18.6, 1.41,17.9, 1.47,18.4,
  1.02,19.6, 1.07,20.4, 1.11,19.2, 1.16,20.8, 1.21,19.9, 1.26,20.1, 1.30,19.4, 1.35,20.6, 1.45,19.7,
  1.04,21.5, 1.09,22.3, 1.13,21.1, 1.18,22.7, 1.23,21.8, 1.28,22.2, 1.33,21.4, 1.40,22.6, 1.48,21.9,
  1.06,23.6, 1.11,24.4, 1.16,23.2, 1.21,24.8, 1.26,23.9, 1.31,24.2, 1.37,23.4, 1.44,24.6,
  1.13,25.5, 1.18,26.3, 1.23,25.1, 1.28,26.7, 1.34,25.8, 1.41,26.2, 1.47,25.4,
  1.17,27.6, 1.22,28.4, 1.27,27.2, 1.33,28.8, 1.39,27.9, 1.46,28.3, 1.24,29.5, 1.36,29.6,
  1.52,1.8, 1.58,2.7, 1.65,1.5, 1.72,3.4, 1.79,2.2, 1.86,1.6, 1.93,2.9, 1.99,1.9,
  1.55,4.6, 1.62,6.1, 1.69,5.2, 1.76,4.1, 1.83,6.8, 1.90,5.5, 1.97,4.4,
  1.51,8.3, 1.59,9.7, 1.66,7.6, 1.73,10.4, 1.81,8.9, 1.88,7.4, 1.95,9.9,
  1.54,12.1, 1.61,13.8, 1.68,11.4, 1.75,14.6, 1.84,12.7, 1.92,15.2,
  1.57,16.9, 1.64,18.5, 1.71,17.3, 1.78,19.8, 1.87,16.6, 1.96,18.1,
  1.53,20.7, 1.60,22.4, 1.67,21.1, 1.74,23.6, 1.82,22.0, 1.91,24.3,
  1.56,25.2, 1.63,26.9, 1.70,24.7, 1.77,28.1, 1.85,26.3, 1.94,27.5,
  1.58,29.2, 1.69,28.4, 1.80,29.6, 1.98,12.0, 1.50,15.8,
  2.04,1.7, 2.11,3.2, 2.18,2.1, 2.25,4.6, 2.32,1.8, 2.39,3.9, 2.46,2.6, 2.53,5.3, 2.58,3.0,
  2.06,6.9, 2.14,8.6, 2.22,7.3, 2.30,10.1, 2.41,8.2, 2.52,6.2,
  2.03,11.8, 2.12,13.9, 2.21,12.4, 2.35,15.3, 2.48,11.1,
  2.08,17.2, 2.19,19.4, 2.29,16.8, 2.44,20.7, 2.56,18.0,
  2.05,22.5, 2.16,24.8, 2.27,23.1, 2.38,26.4, 2.50,22.9,
  2.10,28.2, 2.24,29.1, 2.45,28.7, 2.33,21.2,
  2.66,3.8, 2.74,2.4, 2.83,5.6, 2.92,3.1, 3.02,4.4, 3.15,6.7, 3.30,5.1,
  2.70,9.4, 2.87,12.2, 3.05,10.5, 3.22,14.8, 3.41,9.1,
  2.78,17.6, 2.95,20.9, 3.12,23.5, 3.36,19.2,
  2.68,26.1, 2.90,28.6, 3.25,27.3, 3.45,24.0,
  3.55,5.8, 3.68,8.2, 3.82,6.1, 3.97,11.0, 4.12,7.6, 4.28,12.9, 4.46,9.3, 4.65,14.6,
  3.60,16.7, 3.78,20.3, 4.03,18.1, 4.22,22.8, 4.41,17.5, 4.72,20.9,
  3.64,26.8, 3.90,28.4, 4.18,25.6, 4.58,27.9, 4.84,23.3,
  4.05,14.0, 4.12,14.5, 4.50,14.1, 4.62,13.6, 4.33,12.3, 4.26,10.2, 4.40,8.6, 4.19,6.4, 4.55,10.9,
];
const bUpDense = [
  1.03,2.8, 1.08,3.3, 1.12,2.4, 1.17,3.5, 1.21,1.7, 1.26,3.0, 1.31,2.3, 1.35,3.6, 1.40,1.5, 1.45,2.9, 1.50,3.5, 1.56,2.2, 1.62,3.2, 1.68,1.9, 1.75,2.8,
  1.02,6.6, 1.06,5.0, 1.10,6.1, 1.15,4.4, 1.19,6.5, 1.24,5.2, 1.28,6.8, 1.33,4.4, 1.37,5.9, 1.42,4.8, 1.47,6.5, 1.53,5.6, 1.59,4.3, 1.66,6.4, 1.72,5.0,
  1.04,8.6, 1.08,7.3, 1.13,9.4, 1.17,7.7, 1.22,8.9, 1.26,9.8, 1.31,8.2, 1.36,9.2, 1.40,8.0, 1.45,9.6, 1.50,7.3, 1.56,8.9, 1.62,9.5, 1.69,7.9, 1.76,9.2,
  1.03,10.6, 1.07,11.8, 1.12,12.6, 1.16,10.3, 1.21,12.9, 1.25,11.5, 1.30,12.5, 1.34,11.0, 1.39,12.9, 1.44,11.2, 1.49,12.1, 1.55,10.9, 1.61,12.8, 1.68,11.1,
  1.02,14.8, 1.07,13.4, 1.11,15.9, 1.16,13.9, 1.21,15.0, 1.25,16.6, 1.30,14.4, 1.35,15.9, 1.40,14.0, 1.46,15.5, 1.52,13.6, 1.58,16.3, 1.65,14.7,
  1.05,18.9, 1.09,20.7, 1.14,17.6, 1.19,21.3, 1.24,19.2, 1.29,22.6, 1.34,18.0, 1.39,20.6, 1.44,22.0, 1.50,18.7, 1.57,21.6, 1.63,19.7, 1.72,22.4,
  1.12,23.9, 1.18,25.0, 1.23,27.3, 1.28,23.5, 1.33,26.2, 1.38,28.1, 1.43,25.1, 1.49,27.5, 1.55,24.0, 1.62,28.8, 1.68,26.4, 1.30,29.3, 1.50,29.5,
];
const bUpCap = [1.33, 30, 5, 30];
const bUpEdge = [5, 1.3, 5, 17.0];
const bUpEdgeDots = [
  5,17.8, 5,18.5, 5,19.3, 5,20.1, 5,20.7, 5,21.4, 5,22.2, 5,22.9, 5,23.6, 5,24.4,
  5,25.0, 5,25.7, 5,26.5, 5,27.1, 5,27.9, 5,28.6, 5,29.3,
];
const bNs = [
  -2.98,1.0, -2.90,0.7, -2.81,1.2, -2.73,0.9, -2.64,0.6, -2.56,1.1, -2.47,0.8, -2.39,1.2, -2.30,0.5, -2.22,0.9, -2.14,1.1, -2.06,0.7, -1.98,0.4, -1.91,1.0, -1.84,0.8, -1.77,1.2, -1.70,0.5, -1.63,0.9, -1.56,0.3, -1.50,1.1, -1.44,0.7, -1.38,0.4, -1.32,1.0, -1.26,0.6, -1.20,1.2, -1.15,0.3, -1.10,0.8, -1.05,0.5, -2.52,0.4, -2.18,0.6, -1.87,0.3, -1.60,1.2, -1.41,1.2, -1.23,0.9, -1.08,1.1, -1.35,0.2, -1.18,0.5,
  -0.98,0.6, -0.94,1.0, -0.90,0.3, -0.86,0.8, -0.82,1.2, -0.78,0.5, -0.74,0.9, -0.70,0.2, -0.66,0.7, -0.62,1.1, -0.58,0.4, -0.54,0.8, -0.50,0.2, -0.46,1.0, -0.42,0.5, -0.38,0.9, -0.34,0.3, -0.30,0.7, -0.26,1.1, -0.22,0.4, -0.18,0.8, -0.15,0.2, -0.12,0.5, -0.09,0.3, -0.06,0.15, -0.03,0.05, 0.00,0.03, 0.03,0.06, 0.06,0.2, 0.09,0.4, 0.12,0.25, 0.15,0.7, 0.18,0.4, 0.21,1.0, 0.24,0.3, 0.28,0.8, 0.32,0.5, 0.36,1.1, 0.40,0.2, 0.44,0.7, 0.48,1.0, 0.52,0.4, 0.56,0.9, 0.60,0.3, 0.64,1.2, 0.68,0.6, 0.72,0.2, 0.76,1.0, 0.80,0.5, 0.84,0.8, 0.88,0.3, 0.92,1.1, 0.96,0.6, 0.99,0.9,
  -0.96,0.2, -0.88,1.2, -0.80,0.3, -0.72,1.0, -0.64,0.4, -0.56,0.2, -0.48,0.6, -0.40,1.2, -0.32,1.0, -0.28,0.3, -0.20,0.6, -0.16,1.1, -0.10,0.7, -0.07,0.4, -0.04,0.2, -0.01,0.1, 0.02,0.1, 0.05,0.4, 0.08,0.7, 0.11,0.9, 0.14,0.2, 0.17,1.2, 0.20,0.6, 0.26,0.9, 0.30,0.2, 0.34,0.7, 0.42,1.1, 0.50,0.7, 0.58,1.1, 0.66,0.3, 0.74,0.7, 0.82,1.1, 0.90,0.7, 0.97,0.3,
  1.02,0.8, 1.07,0.4, 1.12,1.1, 1.18,0.6, 1.24,0.9, 1.30,0.3, 1.36,1.2, 1.42,0.7, 1.49,1.0, 1.56,0.5, 1.64,0.9, 1.72,1.2, 1.80,0.6, 1.89,1.0, 1.98,0.4, 2.07,0.8, 2.17,1.1, 2.28,0.6, 2.40,0.9, 2.52,1.1, 2.65,0.7, 2.80,1.0, 2.95,0.6, 1.15,0.3, 1.27,0.6, 1.39,0.4, 1.60,1.2, 1.84,0.3, 2.12,0.5, 2.34,1.2,
  -0.99,1.7, -0.94,2.5, -0.89,1.4, -0.84,2.2, -0.79,2.9, -0.74,1.6, -0.69,2.4, -0.64,1.9, -0.59,2.7, -0.54,1.5, -0.49,2.1, -0.44,2.8, -0.39,1.8, -0.34,2.4, -0.29,1.5, -0.24,2.0, -0.20,1.6, -0.16,1.4, -0.91,2.0, -0.81,1.5, -0.71,2.8, -0.61,1.4, -0.51,2.5, -0.41,1.4, -0.31,2.6, -0.26,1.4,
  -0.98,3.4, -0.93,4.2, -0.88,3.8, -0.83,4.7, -0.78,3.2, -0.73,4.4, -0.68,3.6, -0.63,4.9, -0.58,3.3, -0.53,4.1, -0.48,3.7, -0.43,4.5, -0.38,3.1, -0.34,3.9, -0.30,3.4, -0.96,4.8, -0.86,3.1, -0.76,4.0, -0.66,4.3, -0.56,4.7, -0.46,3.2, -0.40,4.1,
  -0.99,5.6, -0.94,6.4, -0.89,5.2, -0.84,6.8, -0.79,5.9, -0.74,6.2, -0.69,5.4, -0.64,6.6, -0.59,5.7, -0.54,6.9, -0.49,5.3, -0.45,6.1, -0.41,5.5, -0.92,6.0, -0.82,5.1, -0.72,6.7, -0.62,5.2, -0.52,6.3,
  -0.98,7.5, -0.93,8.3, -0.88,7.1, -0.83,8.7, -0.78,7.8, -0.73,8.1, -0.68,7.4, -0.63,8.6, -0.58,7.7, -0.53,8.2, -0.49,7.3, -0.95,8.9, -0.85,7.4, -0.75,8.8, -0.65,7.2,
  -0.99,9.6, -0.94,10.4, -0.89,9.2, -0.84,10.8, -0.79,9.9, -0.74,10.2, -0.69,9.4, -0.64,10.6, -0.60,9.7, -0.91,10.0, -0.81,10.5, -0.71,9.1,
  -0.98,11.5, -0.93,12.3, -0.88,11.1, -0.83,12.7, -0.78,11.8, -0.73,12.2, -0.69,11.4, -0.95,12.9, -0.86,11.9,
  -0.99,13.4, -0.94,14.2, -0.89,13.8, -0.84,14.6, -0.80,13.1, -0.96,14.9, -0.91,13.3,
  -0.98,15.5, -0.93,16.3, -0.97,17.1, -0.91,15.2, -0.99,17.8, -0.95,16.0,
  0.15,1.5, 0.19,2.2, 0.24,1.7, 0.29,2.6, 0.34,1.4, 0.39,2.3, 0.44,1.9, 0.49,2.8, 0.54,1.6, 0.59,2.4, 0.64,2.0, 0.69,1.5, 0.74,2.7, 0.79,1.8, 0.84,2.5, 0.89,1.4, 0.94,2.2, 0.98,2.9, 0.27,1.4, 0.37,2.8, 0.47,1.5, 0.57,2.9, 0.67,2.3, 0.87,2.0,
  0.25,3.3, 0.30,4.1, 0.35,3.6, 0.40,4.6, 0.45,3.2, 0.50,4.3, 0.55,3.8, 0.60,4.9, 0.65,3.4, 0.70,4.4, 0.75,3.9, 0.80,4.7, 0.85,3.1, 0.90,4.2, 0.95,3.7, 0.99,4.5, 0.42,3.9, 0.62,3.1, 0.77,4.0, 0.97,3.2,
  0.35,5.4, 0.40,6.3, 0.45,5.8, 0.50,6.7, 0.55,5.2, 0.60,6.1, 0.65,5.6, 0.70,6.9, 0.75,5.3, 0.80,6.4, 0.85,5.9, 0.90,6.6, 0.95,5.1, 0.99,6.2, 0.72,5.9, 0.88,5.4,
  0.47,7.6, 0.52,8.4, 0.57,7.2, 0.62,8.8, 0.67,7.9, 0.72,8.2, 0.77,7.4, 0.82,8.6, 0.87,7.7, 0.92,8.1, 0.97,7.3, 0.99,8.9, 0.79,8.0,
  0.58,9.5, 0.63,10.3, 0.68,9.8, 0.73,10.7, 0.78,9.2, 0.83,10.4, 0.88,9.6, 0.93,10.9, 0.97,9.4, 0.99,10.2,
  0.70,11.4, 0.75,12.2, 0.80,11.8, 0.85,12.7, 0.90,11.3, 0.95,12.4, 0.99,11.9, 0.92,12.9,
  0.80,13.3, 0.86,14.1, 0.91,13.6, 0.96,14.5, 0.99,13.2, 0.94,14.8,
];
const bNsDense = [
  -0.97,1.0, -0.92,0.4, -0.87,1.1, -0.83,0.5, -0.79,0.9, -0.75,0.4, -0.71,1.2, -0.67,0.3, -0.63,0.8, -0.59,1.2, -0.55,0.5, -0.51,0.9, -0.47,0.3, -0.43,0.8, -0.39,0.6, -0.35,1.0, -0.31,0.5, -0.27,0.8, -0.24,0.5, -0.21,0.9, -0.19,0.3, -0.17,0.6, -0.14,0.4, -0.11,0.3, -0.08,0.2, -0.05,0.1, -0.02,0.05, 0.01,0.04, 0.04,0.1, 0.07,0.25, 0.10,0.15, 0.13,0.5, 0.16,0.3, 0.19,0.8, 0.22,0.5, 0.25,1.1, 0.27,0.2, 0.31,0.7, 0.35,0.4, 0.39,0.9, 0.43,0.5, 0.47,1.2, 0.51,0.3, 0.55,0.7, 0.59,1.1, 0.63,0.6, 0.67,0.9, 0.71,0.4, 0.75,1.2, 0.79,0.7, 0.83,0.3, 0.87,1.0, 0.91,0.4, 0.95,0.9, 0.98,1.2,
  -0.97,2.2, -0.92,1.6, -0.87,2.7, -0.82,1.9, -0.77,2.5, -0.72,1.5, -0.67,2.9, -0.62,2.3, -0.57,1.8, -0.52,2.9, -0.47,2.4, -0.42,1.7, -0.37,2.6, -0.32,2.0, -0.27,2.3, -0.22,1.7, -0.18,1.9, -0.95,3.6, -0.90,4.5, -0.85,3.4, -0.80,4.4, -0.75,3.7, -0.70,4.7, -0.65,3.2, -0.60,4.3, -0.55,3.6, -0.50,4.8, -0.45,3.9, -0.41,3.4, -0.36,3.6, -0.97,5.9, -0.91,5.4, -0.86,6.5, -0.81,5.7, -0.76,6.8, -0.71,5.3, -0.66,6.2, -0.61,6.7, -0.56,5.4, -0.51,6.0, -0.47,5.7, -0.96,7.9, -0.90,8.6, -0.86,7.7, -0.80,8.4, -0.76,7.3, -0.70,8.0, -0.66,8.9, -0.60,7.5, -0.56,8.5, -0.97,10.2, -0.92,9.5, -0.87,10.6, -0.82,9.3, -0.77,10.4, -0.72,10.8, -0.67,9.8, -0.96,11.8, -0.91,12.5, -0.86,11.4, -0.81,12.2, -0.76,12.8, -0.97,13.9, -0.92,14.6, -0.87,13.5, -0.82,14.0, -0.97,15.8, -0.94,16.8, -0.90,15.6, -0.98,16.5, -0.96,18.3,
  0.17,1.9, 0.22,1.5, 0.26,2.4, 0.31,1.8, 0.36,2.6, 0.41,1.6, 0.46,2.2, 0.51,2.9, 0.56,1.9, 0.61,2.7, 0.66,1.5, 0.71,2.2, 0.76,2.9, 0.81,1.6, 0.86,2.8, 0.91,1.8, 0.96,2.5, 0.28,3.5, 0.33,4.4, 0.38,3.2, 0.43,4.7, 0.48,3.6, 0.53,4.5, 0.58,3.3, 0.63,4.2, 0.68,3.7, 0.73,4.8, 0.78,3.5, 0.83,4.4, 0.88,3.6, 0.93,4.7, 0.97,3.9, 0.38,5.8, 0.43,6.6, 0.48,5.3, 0.53,6.2, 0.58,6.8, 0.63,5.4, 0.68,6.4, 0.73,5.6, 0.78,6.1, 0.83,5.2, 0.88,6.7, 0.93,5.8, 0.97,6.9, 0.50,7.4, 0.55,8.0, 0.60,7.6, 0.65,8.5, 0.70,7.3, 0.75,8.7, 0.80,7.5, 0.85,8.3, 0.90,7.4, 0.95,8.6, 0.61,9.9, 0.66,9.4, 0.71,10.2, 0.76,9.6, 0.81,10.8, 0.86,10.0, 0.91,9.3, 0.96,10.6, 0.73,11.7, 0.78,12.5, 0.83,11.2, 0.88,12.2, 0.93,11.6, 0.97,12.8, 0.84,13.8, 0.89,13.2, 0.94,14.0, 0.98,14.2,
];
const bNsEdgeLeft = [-5, 0.3, -5, 1.3];
const bNsEdgeRight = [5, 0.3, 5, 1.3];

// ---------- styles ----------
const GREEN = "rgb(80,188,70)";
const RED = "rgb(225,70,77)";
const NS_CORE = "rgba(0,0,0,0.5)";
const NS_TAIL = "rgba(0,0,0,0.22)";
const BLACK = "rgb(0,0,0)";
const DASH = "#9a9a9a";
const SANS = "'Liberation Sans', Arial, Helvetica, sans-serif";
const SERIF = "'Liberation Serif', 'Times New Roman', serif";

type Pt = { x: number; y: number };
const pairs = (flat: number[]): Pt[] => {
  const out: Pt[] = [];
  for (let i = 0; i + 1 < flat.length; i += 2) out.push({ x: flat[i], y: flat[i + 1] });
  return out;
};

type Panel = {
  label: string;
  down: number[]; downCap: number[]; downEdge: number[]; downEdgeDots: number[];
  up: number[]; upCap: number[]; upEdge: number[]; upEdgeDots: number[];
  ns: number[]; nsEdgeLeft: number[]; nsEdgeRight: number[];
};

const panelA: Panel = {
  label: aLabel, down: aDown.concat(aDownDense), downCap: aDownCap, downEdge: aDownEdge, downEdgeDots: aDownEdgeDots,
  up: aUp.concat(aUpDense), upCap: aUpCap, upEdge: aUpEdge, upEdgeDots: aUpEdgeDots,
  ns: aNs.concat(aNsDense), nsEdgeLeft: aNsEdgeLeft, nsEdgeRight: aNsEdgeRight,
};
const panelB: Panel = {
  label: bLabel, down: bDown.concat(bDownDense), downCap: bDownCap, downEdge: bDownEdge, downEdgeDots: bDownEdgeDots,
  up: bUp.concat(bUpDense), upCap: bUpCap, upEdge: bUpEdge, upEdgeDots: bUpEdgeDots,
  ns: bNs.concat(bNsDense), nsEdgeLeft: bNsEdgeLeft, nsEdgeRight: bNsEdgeRight,
};

const R = 2.4;

function pointSet(data: number[], color: any, order: number) {
  return {
    type: "scatter" as const,
    data: pairs(data),
    backgroundColor: color,
    borderWidth: 0,
    pointRadius: R,
    pointHoverRadius: R,
    showLine: false,
    order,
  };
}
function bandSet(data: number[], color: string, order: number, width: number) {
  return {
    type: "line" as const,
    data: pairs(data),
    borderColor: color,
    borderWidth: width,
    borderCapStyle: "round" as const,
    pointRadius: 0,
    showLine: true,
    fill: false,
    order,
  };
}
function dashSet(data: number[]) {
  return {
    type: "line" as const,
    data: pairs(data),
    borderColor: DASH,
    borderWidth: 1,
    borderDash: [4, 4],
    pointRadius: 0,
    showLine: true,
    fill: false,
    order: 0,
  };
}

// non-significant points outside |logFC|<1 are sparser, so they look lighter
const nsColor = (c: any) => {
  const raw = c.raw as Pt | undefined;
  return raw && Math.abs(raw.x) > fcCut[1] ? NS_TAIL : NS_CORE;
};

function axesPlugin(label: string) {
  return {
    id: "rAxes",
    afterDraw(chart: any) {
      const { ctx, chartArea } = chart;
      const xs = chart.scales.x;
      const ys = chart.scales.y;
      const { left, right, top, bottom } = chartArea;
      ctx.save();
      ctx.strokeStyle = "#333";
      ctx.lineWidth = 1;
      ctx.strokeRect(Math.round(left) + 0.5, Math.round(top) + 0.5, Math.round(right - left), Math.round(bottom - top));
      ctx.fillStyle = "#222";
      ctx.font = `16px ${SANS}`;
      ctx.textAlign = "center";
      ctx.textBaseline = "middle";
      for (const v of xTicks) {
        const px = Math.round(xs.getPixelForValue(v)) + 0.5;
        ctx.beginPath();
        ctx.moveTo(px, bottom);
        ctx.lineTo(px, bottom + 9);
        ctx.stroke();
        ctx.fillText(v < 0 ? "\u2212" + Math.abs(v) : String(v), px, bottom + 31);
      }
      for (const v of yTicks) {
        const py = Math.round(ys.getPixelForValue(v)) + 0.5;
        ctx.beginPath();
        ctx.moveTo(left - 9, py);
        ctx.lineTo(left, py);
        ctx.stroke();
        ctx.save();
        ctx.translate(left - 30, py);
        ctx.rotate(-Math.PI / 2);
        ctx.fillText(String(v), 0, 0);
        ctx.restore();
      }
      ctx.fillText(xTitle, (left + right) / 2, bottom + 67);
      ctx.save();
      ctx.translate(left - 65, (top + bottom) / 2);
      ctx.rotate(-Math.PI / 2);
      ctx.fillText(yTitle, 0, 0);
      ctx.restore();
      ctx.fillStyle = "#000";
      ctx.textBaseline = "alphabetic";
      ctx.textAlign = "left";
      ctx.font = `23px ${SERIF}`;
      ctx.fillText(label, left - 5, 31);
      ctx.textAlign = "right";
      ctx.font = `bold 19px ${SANS}`;
      ctx.fillText(mainTitle, right - 2, 29);
      ctx.restore();
    },
  };
}

function buildConfig(p: Panel): any {
  const datasets: any[] = [
    dashSet([fcCut[0], yRange[0], fcCut[0], yRange[1]]),
    dashSet([fcCut[1], yRange[0], fcCut[1], yRange[1]]),
    dashSet([xRange[0], fdrCut, xRange[1], fdrCut]),
    bandSet(p.downCap, GREEN, 1, 4.6),
    bandSet(p.downEdge, GREEN, 1, 3.6),
    pointSet(p.downEdgeDots, GREEN, 1),
    pointSet(p.down, GREEN, 1),
    bandSet(p.upCap, RED, 1, 4.6),
    bandSet(p.upEdge, RED, 1, 3.6),
    pointSet(p.upEdgeDots, RED, 1),
    pointSet(p.up, RED, 1),
    bandSet(p.nsEdgeLeft, BLACK, 2, 4),
    bandSet(p.nsEdgeRight, BLACK, 2, 4),
    pointSet(p.ns, nsColor, 2),
  ];
  return {
    type: "scatter",
    data: { datasets },
    options: {
      animation: false,
      responsive: false,
      devicePixelRatio: 1,
      layout: { padding: { left: 87, right: 21, top: 43, bottom: 78 } },
      plugins: { legend: { display: false }, tooltip: { enabled: false }, title: { display: false } },
      events: [],
      scales: {
        x: { type: "linear", display: false, min: xRange[0], max: xRange[1] },
        y: { type: "linear", display: false, min: yRange[0], max: yRange[1] },
      },
    },
    plugins: [axesPlugin(p.label)],
  };
}

function VolcanoPanel({ panel, left }: { panel: Panel; left: number }) {
  const ref = useRef<HTMLCanvasElement | null>(null);
  useEffect(() => {
    if (!ref.current) return;
    const chart = new Chart(ref.current, buildConfig(panel));
    return () => chart.destroy();
  }, [panel]);
  return (
    <canvas
      ref={ref}
      width={580}
      height={535}
      style={{ position: "absolute", left, top: 0, width: 580, height: 535 }}
    />
  );
}

export default function App() {
  return (
    <div
      style={{
        position: "fixed",
        left: 0,
        top: 0,
        width: 1145,
        height: 535,
        overflow: "hidden",
        background: "#fff",
      }}
    >
      <VolcanoPanel panel={panelA} left={0} />
      <VolcanoPanel panel={panelB} left={585} />
    </div>
  );
}
